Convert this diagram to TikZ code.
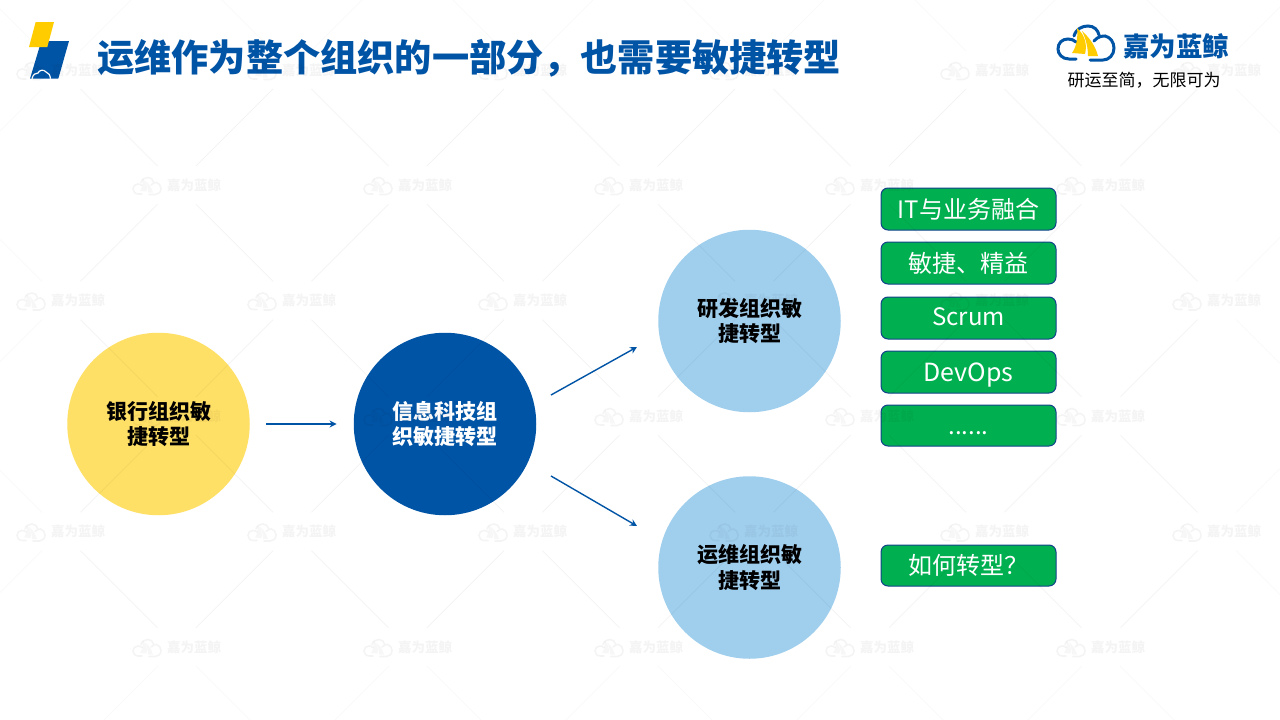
\documentclass[tikz,border=0pt]{standalone}
\usepackage{fontspec}
\setmainfont{Noto Sans CJK SC}
\usetikzlibrary{arrows.meta}
\definecolor{brandblue}{HTML}{0054A6}
\definecolor{brandyellow}{HTML}{FFE066}
\definecolor{logoyellow}{HTML}{FFCC00}
\definecolor{lightcirc}{HTML}{A0CFEE}
\definecolor{boxgreen}{HTML}{00B050}
\definecolor{boxedge}{HTML}{12428A}
\tikzset{
  circ/.style={circle,minimum size=182.5pt,inner sep=0pt,align=center,font=\fontsize{21pt}{25.5pt}\selectfont\bfseries},
  tag/.style={draw=boxedge,line width=1pt,fill=boxgreen,rounded corners=7pt,minimum width=175pt,text=white,inner sep=0pt,text height=21pt,text depth=3pt,font=\fontsize{24pt}{28pt}\selectfont},
  link/.style={draw=brandblue,line width=1.4pt,-{Stealth[length=7pt,width=7pt]}},
  wmark/.style={text=black,text opacity=0.045,font=\fontsize{13.5pt}{14pt}\selectfont\bfseries,inner sep=0pt},
  wmline/.style={draw=black,draw opacity=0.025,line width=1pt}
}
\newcommand{\cloudmark}[5]{%
  \begin{scope}[shift={(#1,#2)},scale=#3]
    \draw[#4,line cap=round]
      (-10,20) -- (-17,20) .. controls (-24,20) and (-28,15) .. (-28,10) .. controls (-28,4) and (-24,0) .. (-18,0) .. controls (-15,0) and (-12,1) .. (-10,3)
      (-12,-3) .. controls (-10,-10) and (-4,-13) .. (2,-13) .. controls (8,-13) and (12,-9) .. (13,-4)
      (8,2) .. controls (12,-3) and (17,-3) .. (19,-3) .. controls (24,-2) and (28,3) .. (28,9) .. controls (28,16) and (23,21) .. (17,21) -- (4,21);
    \fill[#5] (-9,-11) .. controls (0,-3) and (1,7) .. (-1,15) -- (-14,14) .. controls (-9,7) and (-8,-3) .. (-9,-11) -- cycle;
    \fill[#5] (-4,-8) .. controls (5,0) and (10,9) .. (12,17) -- (2,17) .. controls (2,9) and (0,0) .. (-4,-8) -- cycle;
  \end{scope}}
\begin{document}
\begin{tikzpicture}[x=1pt,y=-1pt]
\useasboundingbox (0,0) rectangle (1280,720);
\fill[white] (0,0) rectangle (1280,720);
% corner mark
\fill[brandblue] (41.3,41) -- (69,41) -- (58.3,78.7) -- (30,78.7) -- cycle;
\fill[logoyellow] (35.7,22) -- (54,22) -- (47.3,47) -- (29,47) -- cycle;
\draw[white,line width=1.2pt] (32,78.7) .. controls (33,74) and (36,73) .. (38,73) .. controls (39,70) and (44,69) .. (46,72) .. controls (49,73) and (50,75) .. (50.5,78.7);
% title
\node[anchor=west,inner sep=0pt,text=brandblue,font=\fontsize{37.2pt}{37pt}\selectfont\bfseries] (title) at (97,58) {运维作为整个组织的一部分，也需要敏捷转型};
% top-right logo
\cloudmark{1086}{39}{1}{brandblue,line width=3pt}{logoyellow}
\node[anchor=west,inner sep=0pt,text=brandblue,font=\fontsize{26.5pt}{26.5pt}\selectfont\bfseries] (brand) at (1123,46) {嘉为蓝鲸};
\node[inner sep=0pt,font=\fontsize{17pt}{17pt}\selectfont] (slogan) at (1144,80) {研运至简，无限可为};
% circles
\node[circ,fill=brandyellow,text=black] (bank) at (158.5,424) {银行组织敏\\捷转型};
\node[circ,fill=brandblue,text=white] (it) at (445,424) {信息科技组\\织敏捷转型};
\node[circ,fill=lightcirc,text=black] (dev) at (749.5,321) {研发组织敏\\捷转型};
\node[circ,fill=lightcirc,text=black] (ops) at (749.5,567.5) {运维组织敏\\捷转型};
% connectors
\coordinate (itup) at (551,395);
\coordinate (devin) at (637,347);
\coordinate (itdn) at (551,476);
\coordinate (opsin) at (637,526);
\draw[link,shorten <=16pt,shorten >=17pt] (bank) -- (it);
\draw[link] (itup) -- (devin);
\draw[link] (itdn) -- (opsin);
% tags
\node[tag,minimum height=42pt] (t1) at (968.5,209) {IT与业务融合};
\node[tag,minimum height=42pt] (t2) at (968.5,263) {敏捷、精益};
\node[tag,minimum height=42pt] (t3) at (968.5,318) {\raisebox{2pt}{Scrum}};
\node[tag,minimum height=42pt,font=\fontsize{25pt}{28pt}\selectfont] (t4) at (968.5,372) {DevOps};
\node[tag,minimum height=41pt] (t5) at (968.5,425.5) {......};
\node[tag,minimum height=41pt] (t6) at (968.5,565.5) {如何转型？};
% faint watermark laid over the whole slide
\begin{scope}
\clip (0,0) rectangle (1280,720);
\foreach \yy/\xs in {70/{61,292,523,754,985,1217},185/{177,408,639,870,1101},300.5/{61,292,523,754,985,1217},416/{177,408,639,870,1101},531.5/{61,292,523,754,985,1217},647/{177,408,639,870,1101}}{
  \foreach \xx in \xs {
    \cloudmark{\xx-30}{\yy-1}{0.5}{black,draw opacity=0.045,line width=1.6pt}{black,fill opacity=0.03}
    \node[wmark] (wm\xx-\yy) at (\xx+17,\yy) {嘉为蓝鲸};
    \draw[wmline] (\xx+19,\yy+19) -- (\xx+96,\yy+96);
    \draw[wmline] (\xx-19,\yy+19) -- (\xx-96,\yy+96);
    \draw[wmline] (\xx+19,\yy-19) -- (\xx+96,\yy-96);
    \draw[wmline] (\xx-19,\yy-19) -- (\xx-96,\yy-96);
  }
}
\end{scope}
\end{tikzpicture}
\end{document}
